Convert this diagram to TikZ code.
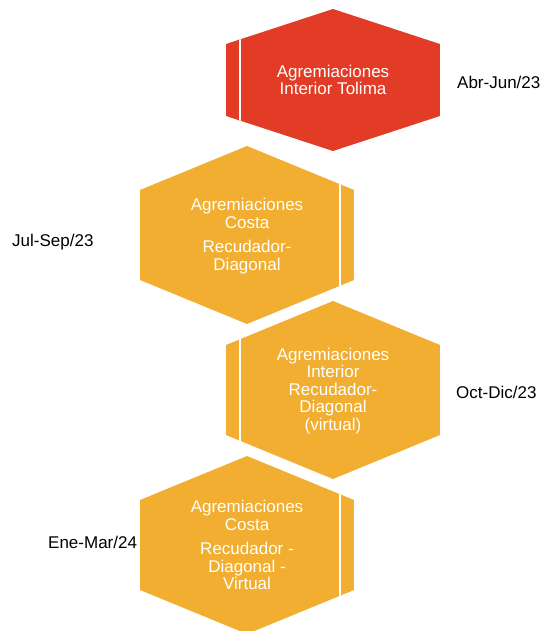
\documentclass[tikz,border=0pt]{standalone}
\usepackage{fontspec}
\setmainfont{Liberation Sans}
\definecolor{hexred}{HTML}{E33C26}
\definecolor{hexorange}{HTML}{F1AE30}
% hexagon outline: centre x, centre y, half side, half height
\newcommand{\hexpath}[4]{({#1},{#2-#4}) -- ({#1+107},{#2-#3}) -- ({#1+107},{#2+#3}) -- ({#1},{#2+#4}) -- ({#1-107},{#2+#3}) -- ({#1-107},{#2-#3}) -- cycle}
\begin{document}
\begin{tikzpicture}[x=1pt,y=-1pt,
  hextext/.style={text=white,align=center,inner sep=0pt,font=\fontsize{17}{17.5}\selectfont},
  datelabel/.style={text=black,anchor=west,inner sep=0pt,font=\fontsize{17}{17.5}\selectfont},
  stripcut/.style={white,line width=2pt}]
\useasboundingbox (0,0) rectangle (540,631);
% stages
\begin{scope}
\clip \hexpath{333}{80}{36}{71};
\fill[hexred] \hexpath{333}{80}{36}{71};
\draw[stripcut] (240,0) -- (240,160);
\end{scope}
\begin{scope}
\clip \hexpath{247}{235}{45}{89};
\fill[hexorange] \hexpath{247}{235}{45}{89};
\draw[stripcut] (340,140) -- (340,330);
\end{scope}
\begin{scope}
\clip \hexpath{333}{390}{45}{89};
\fill[hexorange] \hexpath{333}{390}{45}{89};
\draw[stripcut] (240,295) -- (240,485);
\end{scope}
\begin{scope}
\clip \hexpath{247}{545}{45}{89};
\fill[hexorange] \hexpath{247}{545}{45}{89};
\draw[stripcut] (340,450) -- (340,640);
\end{scope}
\node[hextext] (tolima) at (333,80) {Agremiaciones\\Interior Tolima};
\node[hextext] (costa) at (247,236) {Agremiaciones\\Costa\\[7pt]Recudador-\\Diagonal};
\node[hextext] (interior) at (333,391) {Agremiaciones\\Interior\\Recudador-\\Diagonal\\(virtual)};
\node[hextext] (costavirtual) at (247,545) {Agremiaciones\\Costa\\[7pt]Recudador -\\Diagonal -\\Virtual};
% periods
\node[datelabel] (abrjun) at (457,82) {Abr-Jun/23};
\node[datelabel] (julsep) at (12,242) {Jul-Sep/23};
\node[datelabel] (octdic) at (456,392) {Oct-Dic/23};
\node[datelabel] (enemar) at (48,542) {Ene-Mar/24};
\end{tikzpicture}
\end{document}
